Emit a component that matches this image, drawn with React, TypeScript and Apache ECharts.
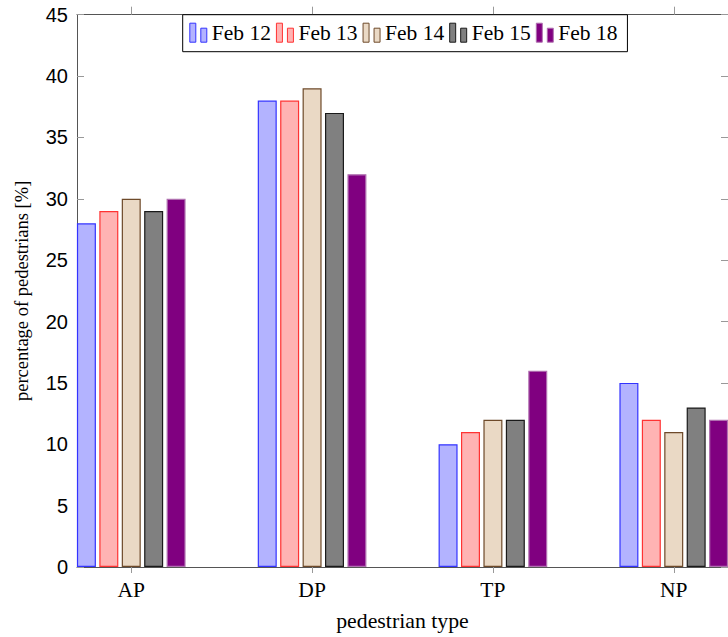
import React, { useEffect, useRef } from "react";
import * as echarts from "echarts";

const CATEGORIES = ["AP", "DP", "TP", "NP"];
const SERIES_NAMES = ["Feb 12", "Feb 13", "Feb 14", "Feb 15", "Feb 18"];
const FEB12 = [28, 38, 10, 15];
const FEB13 = [29, 38, 11, 12];
const FEB14 = [30, 39, 12, 11];
const FEB15 = [29, 37, 12, 13];
const FEB18 = [30, 32, 16, 12];
const VALUES = [FEB12, FEB13, FEB14, FEB15, FEB18];
const Y_TICKS = [0, 5, 10, 15, 20, 25, 30, 35, 40, 45];

const FILLS = ["#b3b3ff", "#ffb3b3", "#ead9c5", "#808080", "#800080"];
const STROKES = ["#3333ff", "#ff3333", "#6e4a2a", "#1a1a1a", "#b070b0"];

const SERIF = "'Liberation Serif', 'Times New Roman', serif";
const SANS = "'Liberation Sans', Arial, sans-serif";
const AXIS_COLOR = "#555";
const LEGEND_ICON = "path://M0,0h6v19h-6z M11,5h6v14h-6z";

export default function App() {
  const ref = useRef<HTMLDivElement>(null);
  useEffect(() => {
    if (!ref.current) return;
    const chart = echarts.init(ref.current, null, { renderer: "svg" });
    const tickIdx = CATEGORIES.map((_, i) => i);
    const legendText = { fontFamily: SERIF, fontSize: 21.5, color: "#000", padding: [2, 0, 0, 0] };
    const commonX = {
      type: "value",
      min: -0.3,
      max: 3.3,
      splitLine: { show: false },
    };
    chart.setOption({
      animation: false,
      textStyle: { fontFamily: SERIF },
      grid: { left: 77, top: 14.7, bottom: 68, width: 656, containLabel: false },
      legend: {
        left: 182.7,
        top: 14.7,
        orient: "horizontal",
        itemWidth: 17,
        itemHeight: 19,
        itemGap: 5,
        padding: [7, 10, 8, 6.6],
        borderColor: "#000",
        borderWidth: 1,
        backgroundColor: "#fff",
        textStyle: legendText,
        data: SERIES_NAMES.map((n, i) => ({
          name: n,
          icon: LEGEND_ICON,
          itemStyle: { color: FILLS[i], borderColor: STROKES[i], borderWidth: 1 },
        })),
      },
      xAxis: [
        {
          ...commonX,
          position: "bottom",
          name: "pedestrian type",
          nameLocation: "middle",
          nameGap: 43,
          nameTextStyle: { fontFamily: SERIF, fontSize: 21.8, color: "#000" },
          axisLine: { show: true, onZero: false, lineStyle: { color: AXIS_COLOR, width: 1 } },
          axisTick: {
            show: true,
            inside: false,
            length: 6,
            customValues: tickIdx,
            lineStyle: { color: "#999" },
          },
          axisLabel: {
            fontFamily: SERIF,
            fontSize: 21.5,
            color: "#000",
            customValues: tickIdx,
            margin: 12,
            formatter: (v: number) => CATEGORIES[Math.round(v)] ?? "",
          },
        },
        {
          ...commonX,
          position: "top",
          axisLine: { show: true, onZero: false, lineStyle: { color: AXIS_COLOR, width: 1 } },
          axisTick: {
            show: true,
            inside: false,
            length: 8,
            customValues: tickIdx,
            lineStyle: { color: "#999" },
          },
          axisLabel: { show: false },
        },
      ],
      yAxis: [
        {
          type: "value",
          position: "left",
          min: 0,
          max: 45,
          interval: 5,
          name: "percentage of pedestrians [%]",
          nameLocation: "middle",
          nameGap: 46,
          nameRotate: 90,
          nameTextStyle: { fontFamily: SERIF, fontSize: 18.5, color: "#000" },
          splitLine: { show: false },
          axisLine: { show: true, onZero: false, lineStyle: { color: AXIS_COLOR, width: 1 } },
          axisTick: { show: true, inside: true, length: 7, lineStyle: { color: "#999" } },
          axisLabel: {
            fontFamily: SANS,
            fontSize: 20,
            color: "#000",
            margin: 9,
            customValues: Y_TICKS,
            formatter: (v: number) => String(v),
          },
        },
        {
          type: "value",
          position: "right",
          min: 0,
          max: 45,
          interval: 5,
          splitLine: { show: false },
          axisLine: { show: true, onZero: false, lineStyle: { color: AXIS_COLOR, width: 1 } },
          axisTick: { show: true, inside: true, length: 7, lineStyle: { color: "#999" } },
          axisLabel: { show: false },
        },
      ],
      series: VALUES.map((vals, i) => ({
        type: "bar",
        name: SERIES_NAMES[i],
        xAxisIndex: 0,
        yAxisIndex: 0,
        barWidth: 19,
        barGap: "18%",
        data: vals.map((v, k) => [k, v]),
        itemStyle: { color: FILLS[i], borderColor: STROKES[i], borderWidth: 1.2 },
      })),
    });
    return () => chart.dispose();
  }, []);
  return <div ref={ref} style={{ width: 728, height: 637, position: "absolute", left: 0, top: 0 }} />;
}
